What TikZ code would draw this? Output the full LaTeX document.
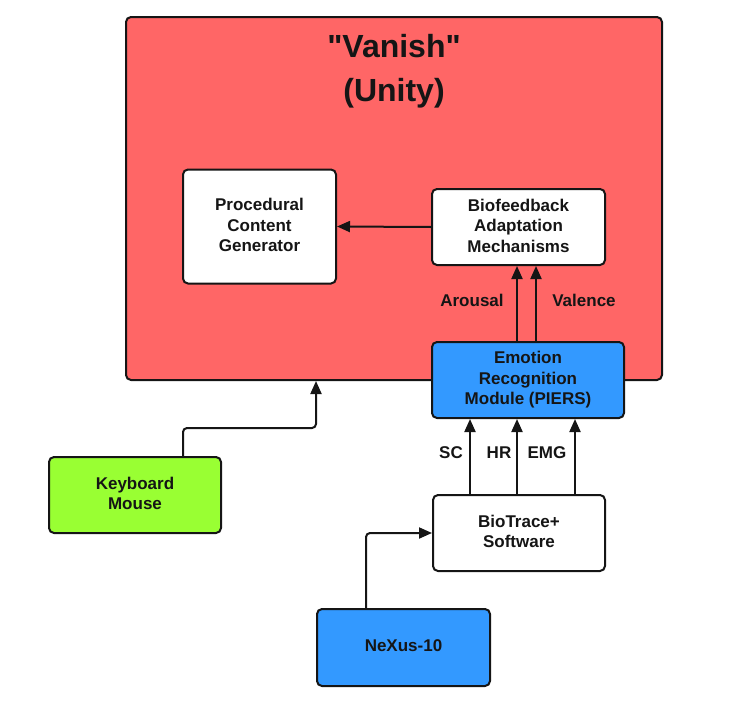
\documentclass[tikz,border=0pt]{standalone}
\usepackage{fontspec}
\setmainfont{Liberation Sans}[Ligatures=TeXOff]
\usetikzlibrary{arrows.meta,calc}
\definecolor{vred}{HTML}{FF6666}
\definecolor{vgreen}{HTML}{99FF33}
\definecolor{vblue}{HTML}{3399FF}
\definecolor{vline}{HTML}{151515}
\tikzset{
  box/.style={draw=vline, line width=2pt, rounded corners=5pt, align=center,
    font=\fontsize{17}{20.5}\selectfont\bfseries, text=vline, inner sep=0pt},
  lbl/.style={font=\fontsize{17}{20.5}\selectfont\bfseries, text=vline, inner sep=0pt},
  arr/.style={draw=vline, line width=2pt, -{Triangle[length=13pt,width=11pt]}, rounded corners=4pt},
}
\begin{document}
\begin{tikzpicture}[x=1pt,y=-1pt]
\useasboundingbox (0,0) rectangle (742,704);
% main container
\node[box, fill=vred, minimum width=536pt, minimum height=363pt] (vanish) at (394,198.5) {};
\node[align=center, font=\fontsize{32}{44}\selectfont\bfseries, text=vline, inner sep=0pt] (title) at (394,71) {"Vanish"\\(Unity)};
% inner boxes
\node[box, fill=white, minimum width=153pt, minimum height=114pt] (pcg) at (259.5,226.5) {Procedural\\Content\\Generator\rule[-3pt]{0pt}{0pt}};
\node[box, fill=white, minimum width=173pt, minimum height=76pt] (bam) at (518.5,227) {Biofeedback\\Adaptation\\Mechanisms\rule[-3pt]{0pt}{0pt}};
\node[box, fill=vblue, minimum width=192pt, minimum height=76pt] (erm) at (528,380) {Emotion\\Recognition\\Module (PIERS)\rule[-3pt]{0pt}{0pt}};
\node[box, fill=white, minimum width=172pt, minimum height=76pt] (bio) at (519,533) {BioTrace+\\Software\rule[-3pt]{0pt}{0pt}};
\node[box, fill=vgreen, minimum width=172pt, minimum height=76pt] (kbd) at (135,495) {Keyboard\\Mouse\rule[-3pt]{0pt}{0pt}};
\node[box, fill=vblue, minimum width=173pt, minimum height=77pt] (nexus) at (403.5,647.5) {NeXus-10\rule[-3pt]{0pt}{0pt}};
% labels
\node[lbl] (arousal) at (472,300) {Arousal};
\node[lbl] (valence) at (584,300) {Valence};
\node[lbl] (sc) at (451,453) {SC};
\node[lbl] (hr) at (499,453) {HR};
\node[lbl] (emg) at (547,453) {EMG};
% connectors
\draw[arr] (bam.west) -- (pcg.east);
\coordinate (a1) at ($(erm.north west)+(86,0)$);
\coordinate (a2) at ($(erm.north west)+(105,0)$);
\draw[arr] (a1) -- (a1 |- bam.south);
\draw[arr] (a2) -- (a2 |- bam.south);
\coordinate (s1) at ($(bio.north west)+(38,0)$);
\coordinate (s2) at ($(bio.north west)+(85,0)$);
\coordinate (s3) at ($(bio.north west)+(143,0)$);
\draw[arr] (s1) -- (s1 |- erm.south);
\draw[arr] (s2) -- (s2 |- erm.south);
\draw[arr] (s3) -- (s3 |- erm.south);
\coordinate (k1) at ($(kbd.north)+(48,0)$);
\coordinate (k2) at ($(vanish.south west)+(191,0)$);
\draw[arr] (k1) -- ++(0,-28) -| (k2);
\coordinate (n1) at ($(nexus.north)+(-37.5,0)$);
\draw[arr] (n1) |- (bio.west);
\end{tikzpicture}
\end{document}
